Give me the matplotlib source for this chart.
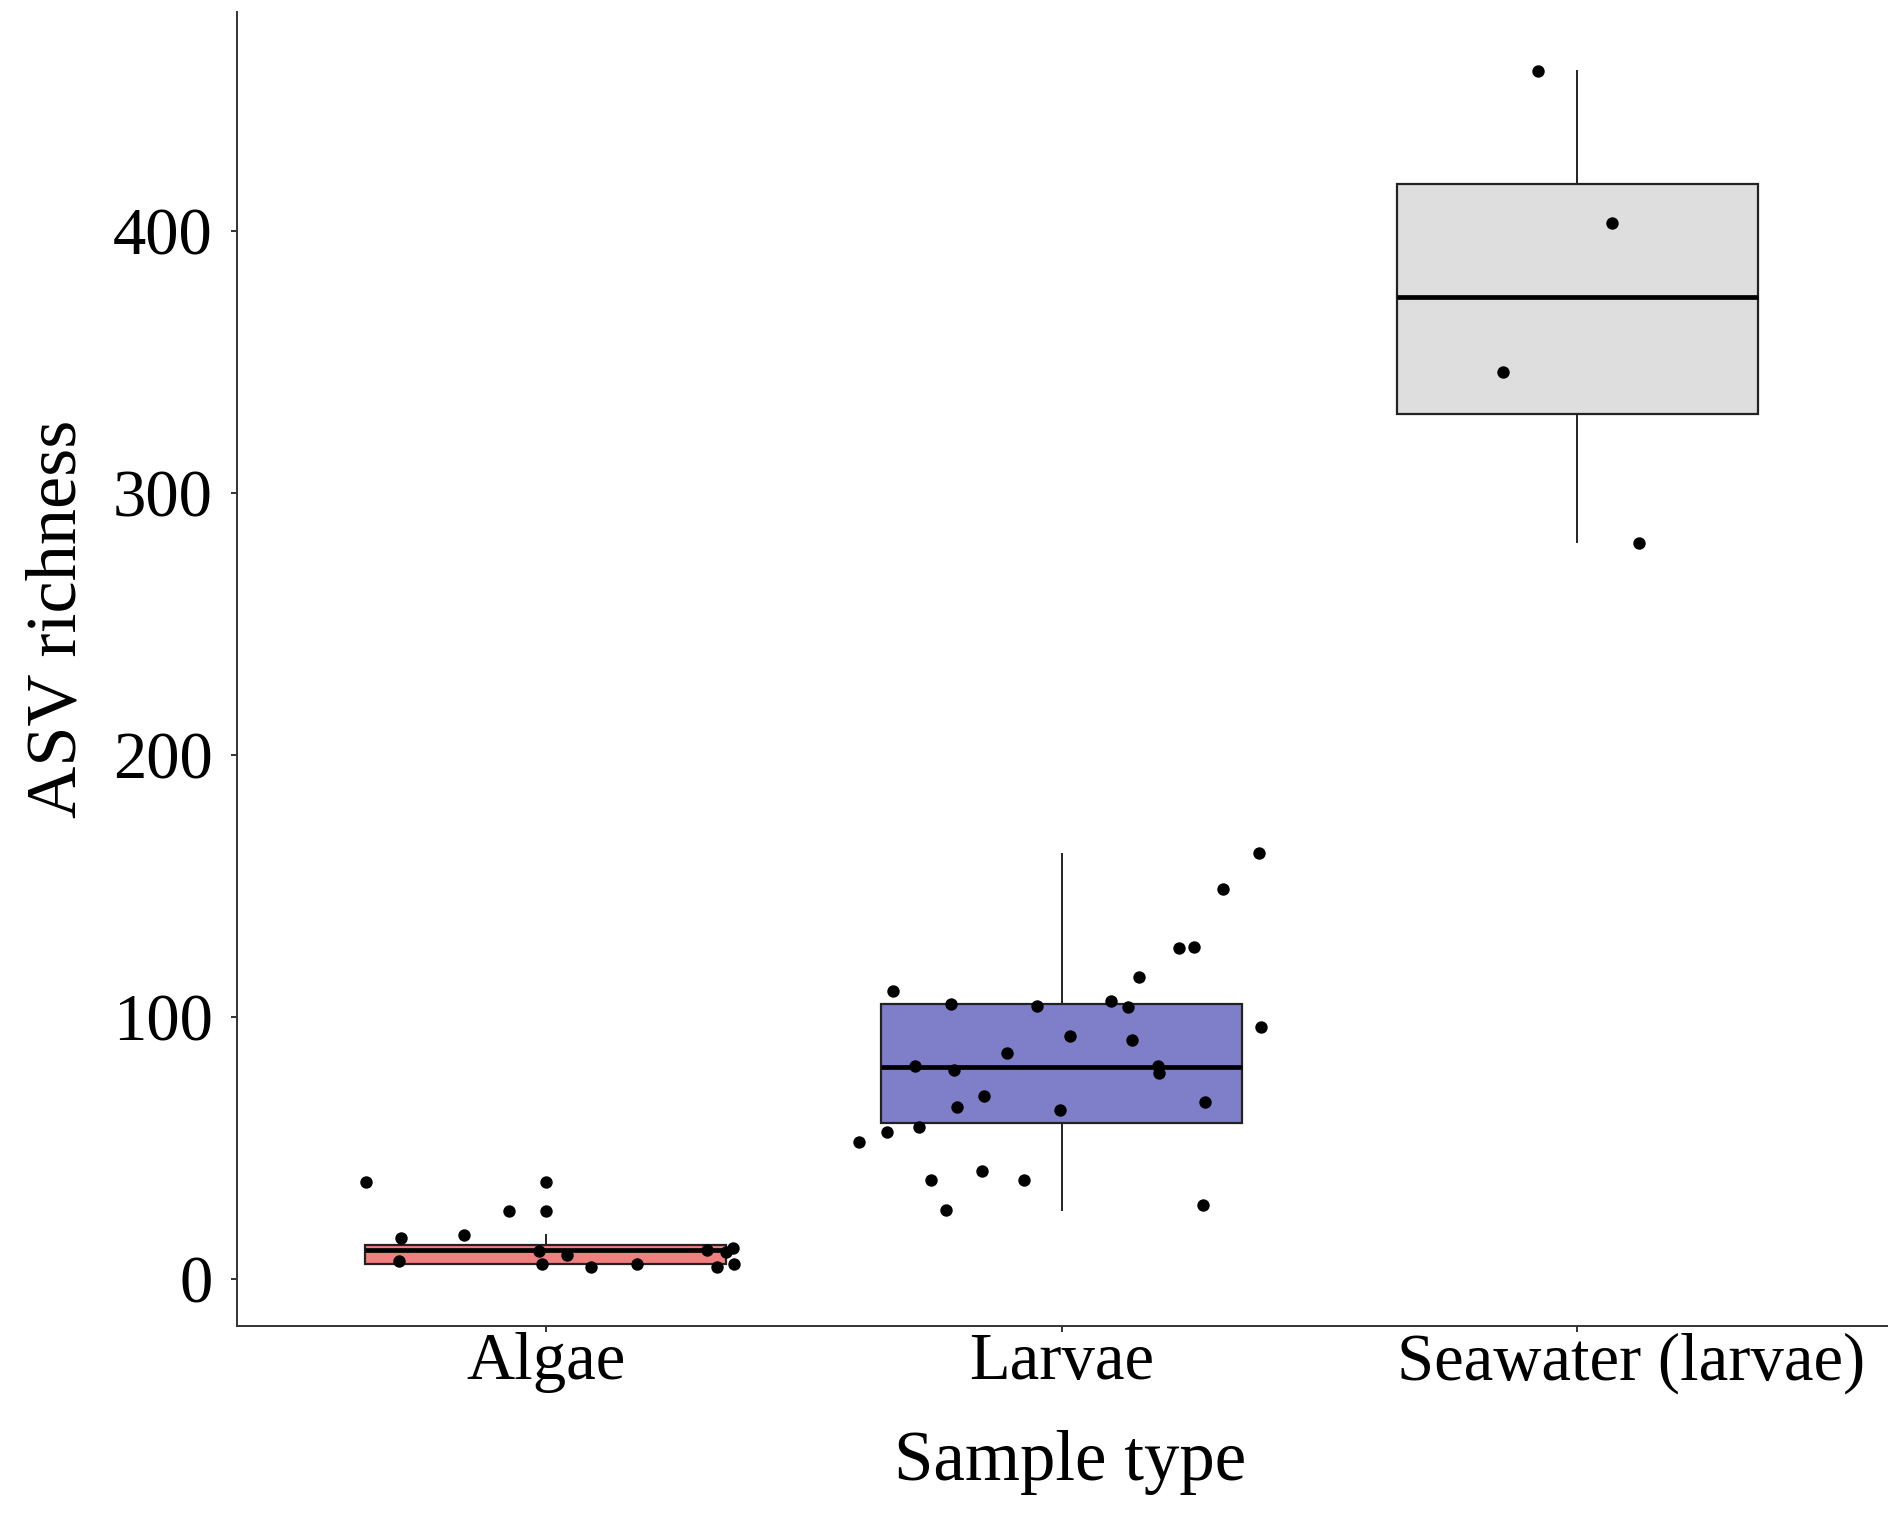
import matplotlib.pyplot as plt
from matplotlib.transforms import ScaledTranslation

# ---- data ----
categories = ['Algae', 'Larvae', 'Seawater (larvae)']
fill_colors = ['#F08080', '#7F7FC9', '#DEDEDE']

# box statistics (ASV richness)
q1 = [5.7, 59.5, 330.1]
median = [11.2, 81.1, 374.8]
q3 = [13.1, 105.0, 417.8]
whisker_low = [4.6, 26.4, 281.4]
whisker_high = [16.9, 162.2, 461.0]

# individual samples and their horizontal jitter (category units)
algae_values = [37.0, 37.0, 26.1, 26.1, 15.9, 16.9, 7.0, 10.9, 5.7, 9.3,
                4.6, 5.8, 11.2, 4.8, 10.5, 12.1, 5.8]
algae_jitter = [-0.349, 0.001, -0.071, 0.0, -0.282, -0.159, -0.285, -0.013,
                -0.007, 0.040, 0.087, 0.177, 0.313, 0.332, 0.350, 0.362, 0.365]

larvae_values = [162.5, 148.9, 126.3, 126.9, 115.2, 110.1, 105.0, 104.4,
                 106.3, 104.0, 96.1, 92.9, 91.3, 86.2, 81.4, 79.8, 81.4, 78.8,
                 69.9, 65.8, 64.6, 67.8, 58.0, 56.1, 52.5, 38.1, 41.3, 37.9,
                 26.4, 28.3]
larvae_jitter = [0.383, 0.313, 0.228, 0.257, 0.151, -0.327, -0.214, -0.048,
                 0.096, 0.128, 0.386, 0.016, 0.137, -0.105, -0.285, -0.209,
                 0.186, 0.188, -0.151, -0.203, -0.003, 0.278, -0.277, -0.339,
                 -0.392, -0.253, -0.155, -0.072, -0.225, 0.275]

seawater_values = [460.9, 403.1, 346.0, 281.1]
seawater_jitter = [-0.076, 0.068, -0.144, 0.119]

yticks = [0, 100, 200, 300, 400]

# ---- figure ----
plt.rcParams['font.family'] = ['Liberation Serif', 'DejaVu Serif']

fig = plt.figure(figsize=(19, 15.24), dpi=100)
ax = fig.add_axes([0.1245, 0.1299, 0.8685, 0.862])

stats = []
for i in range(len(categories)):
    stats.append({'q1': q1[i], 'med': median[i], 'q3': q3[i],
                  'whislo': whisker_low[i], 'whishi': whisker_high[i],
                  'fliers': [], 'label': categories[i]})

positions = [1, 2, 3]
bp = ax.bxp(stats, positions=positions, widths=0.7, patch_artist=True,
            showcaps=False, showfliers=False,
            boxprops=dict(linewidth=1.6, edgecolor='#222222'),
            medianprops=dict(linewidth=3.4, color='black'),
            whiskerprops=dict(linewidth=1.4, color='#222222'))
for patch, c in zip(bp['boxes'], fill_colors):
    patch.set_facecolor(c)

groups = [(algae_values, algae_jitter), (larvae_values, larvae_jitter),
          (seawater_values, seawater_jitter)]
for pos, (vals, jit) in zip(positions, groups):
    xs = [pos + j for j in jit]
    ax.scatter(xs, vals, s=80, color='black', zorder=5, linewidths=0)

ax.set_xlim(0.4, 3.6)
ax.set_ylim(-17.8, 483.4)
ax.set_yticks(yticks)
ax.set_xticks(positions)
ax.set_xticklabels(categories)

for side in ['top', 'right']:
    ax.spines[side].set_visible(False)
for side in ['left', 'bottom']:
    ax.spines[side].set_linewidth(1.4)
    ax.spines[side].set_color('#333333')

ax.tick_params(axis='both', length=4.3, width=1.4, color='#333333',
               labelsize=48, labelcolor='black')
ax.tick_params(axis='x', pad=0)
ax.tick_params(axis='y', pad=13)

# third label sits right of its tick in the original
lbl = ax.get_xticklabels()[2]
lbl.set_transform(lbl.get_transform() + ScaledTranslation(0.54, 0, fig.dpi_scale_trans))

ax.set_xlabel('Sample type', fontsize=51)
ax.set_ylabel('ASV richness', fontsize=52)
ax.xaxis.set_label_coords(0.505, -0.0795)
ax.yaxis.set_label_coords(-0.0885, 0.5386)

plt.savefig('out.png', dpi=100)
plt.close()
